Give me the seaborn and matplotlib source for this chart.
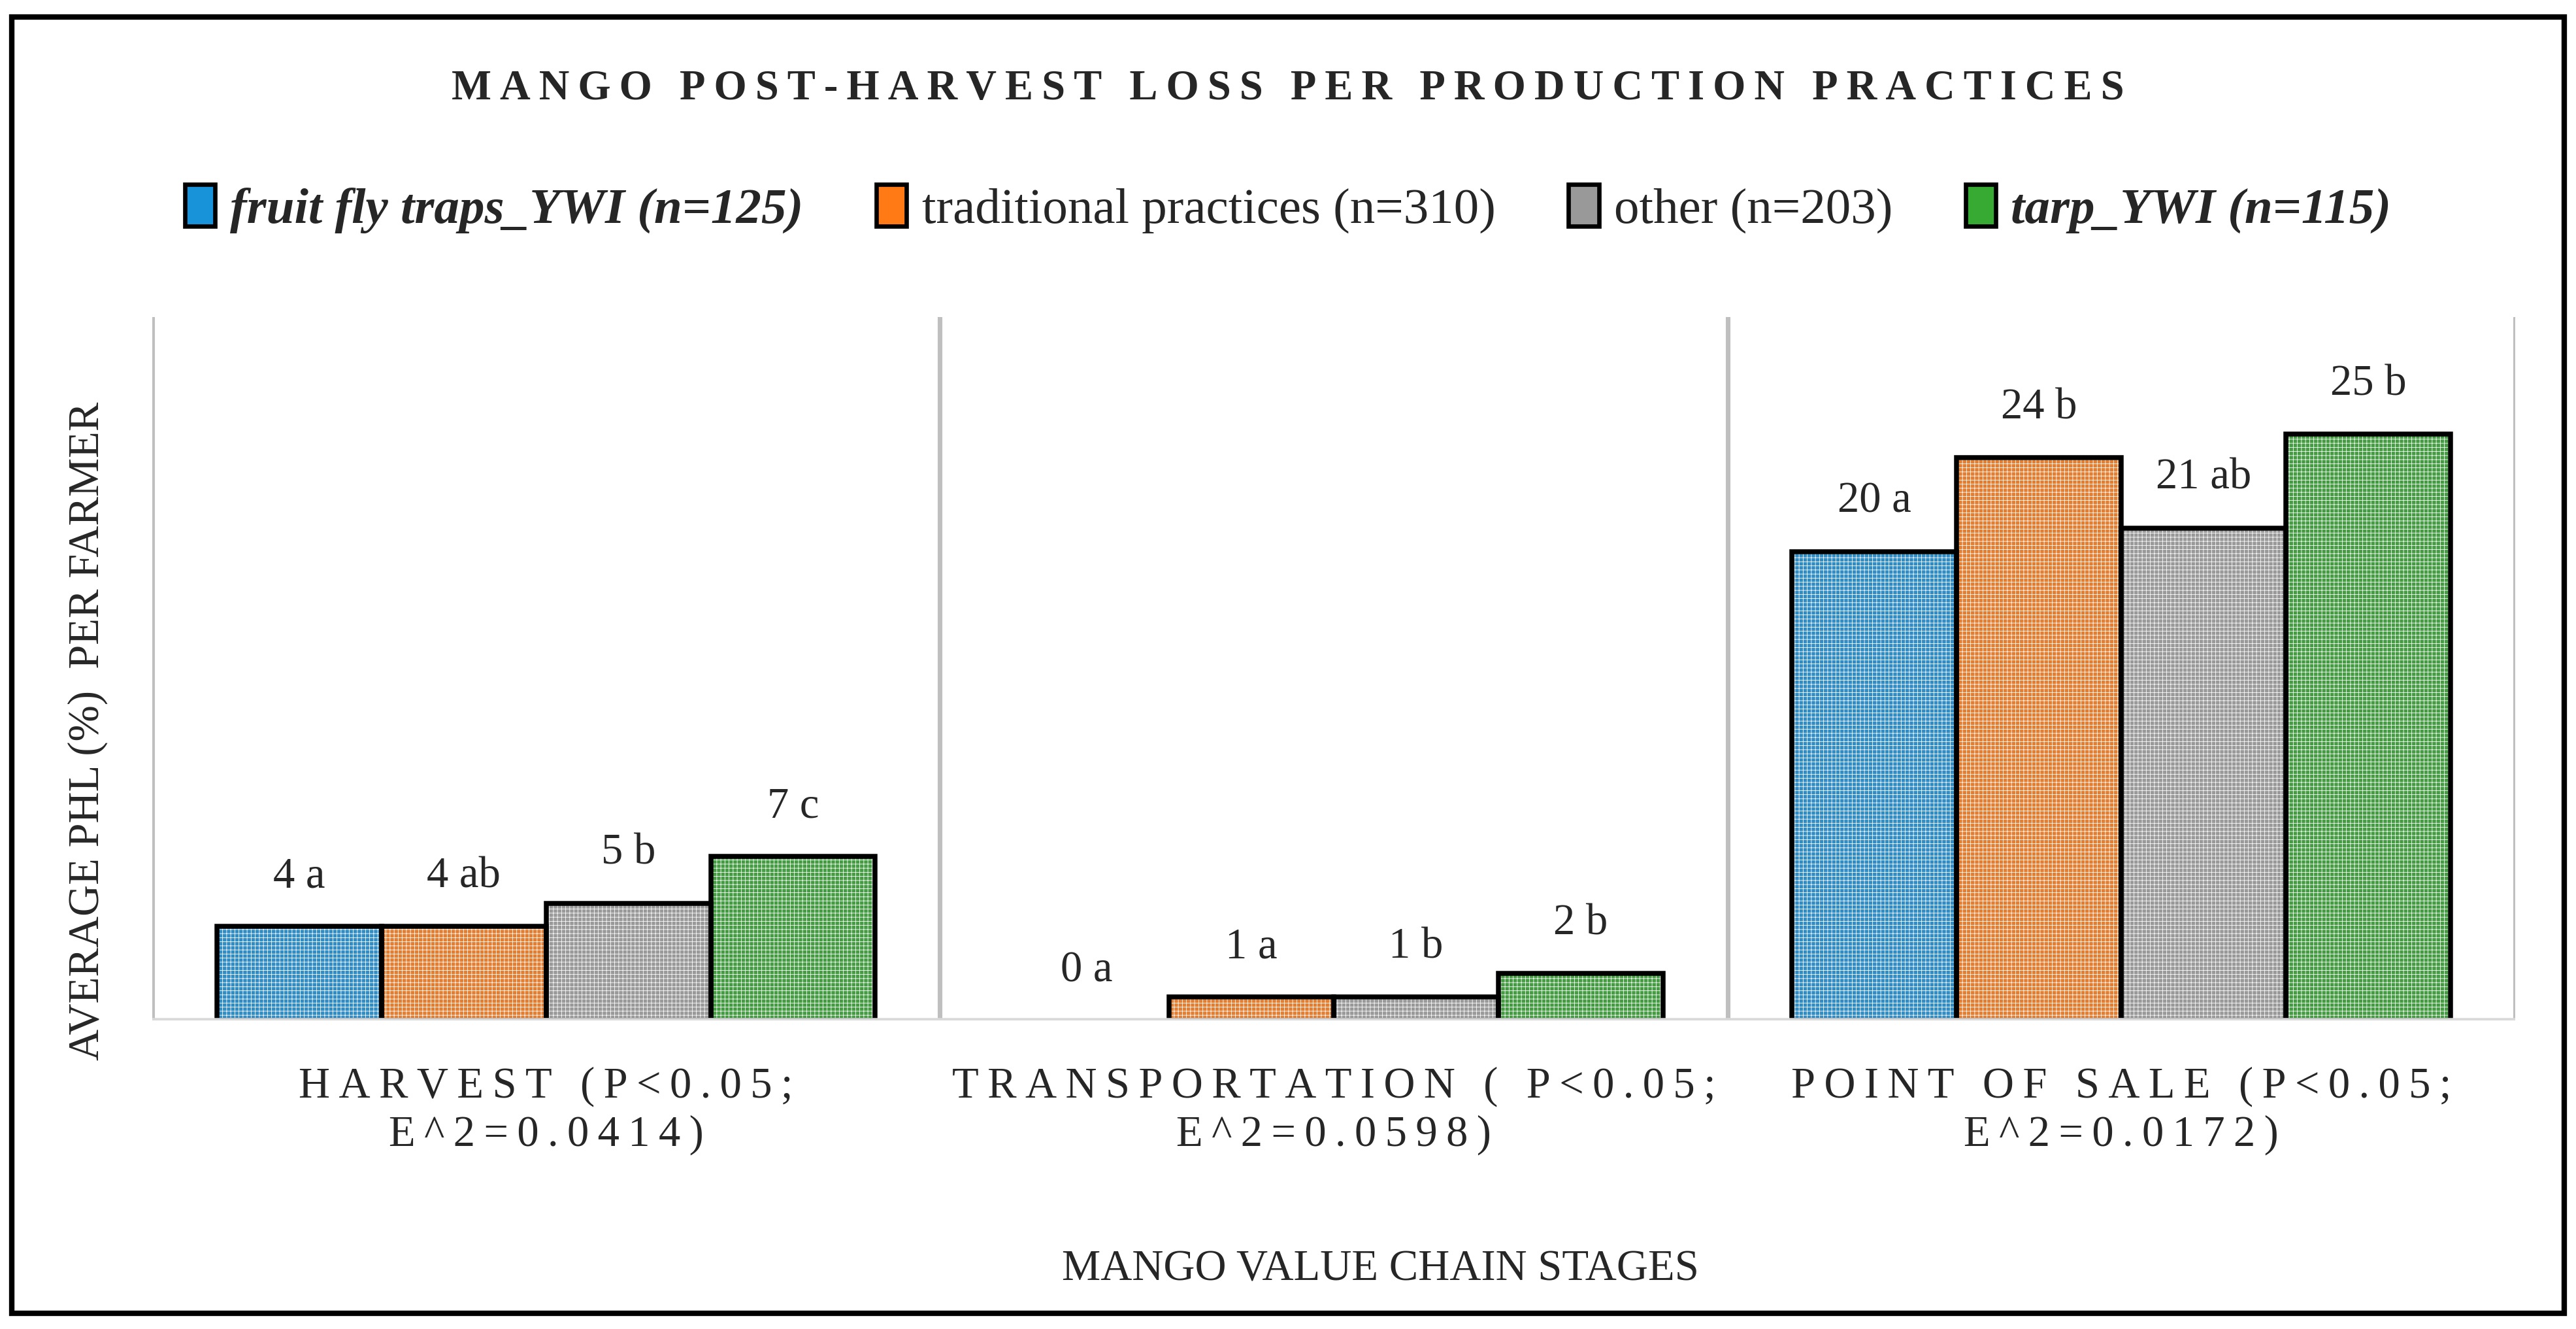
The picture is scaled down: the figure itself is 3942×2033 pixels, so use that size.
import pandas as pd
import seaborn as sns
import matplotlib.pyplot as plt
from matplotlib.patches import Rectangle, Patch

# data
stages = ['HARVEST (P<0.05;\nE^2=0.0414)',
          'TRANSPORTATION ( P<0.05;\nE^2=0.0598)',
          'POINT OF SALE (P<0.05;\nE^2=0.0172)']
practices = ['fruit fly traps_YWI (n=125)', 'traditional practices (n=310)',
             'other (n=203)', 'tarp_YWI (n=115)']
fruit_fly = [4, 0, 20]
traditional = [4, 1, 24]
other = [5, 1, 21]
tarp = [7, 2, 25]
letters_fruit_fly = ['a', 'a', 'a']
letters_traditional = ['ab', 'a', 'b']
letters_other = ['b', 'b', 'ab']
letters_tarp = ['c', 'b', 'b']

colors = ['#1893DA', '#FF7A14', '#999999', '#36AA33']

series = [fruit_fly, traditional, other, tarp]
letters = [letters_fruit_fly, letters_traditional, letters_other, letters_tarp]
rows = []
for p, vals in zip(practices, series):
    for s, v in zip(stages, vals):
        rows.append({'stage': s, 'practice': p, 'phl': v})
df = pd.DataFrame(rows)

sns.set_style('white')
plt.rcParams['font.family'] = ['Liberation Serif', 'DejaVu Serif']
plt.rcParams['hatch.linewidth'] = 0.2


def spaced(text, sep='\u2009'):
    # letter-spaced caps like the original
    return '\n'.join(sep.join(line) for line in text.split('\n'))


fig = plt.figure(figsize=(3942 / 300, 2033 / 300), dpi=300)
ax = fig.add_axes([0.0591, 0.2322, 0.9173, 0.5292])

sns.barplot(data=df, x='stage', y='phl', hue='practice', palette=colors,
            edgecolor='black', linewidth=0, width=0.836, ax=ax,
            legend=False, zorder=2)

# fine white grid texture on every bar, then a black outline on top
for p in list(ax.patches):
    if p.get_height() == 0:
        continue
    box = (p.get_x(), p.get_y())
    ax.add_patch(Rectangle(box, p.get_width(), p.get_height(), fill=False,
                           hatch='++++++++', edgecolor='white', linewidth=0,
                           zorder=2.5))
    ax.add_patch(Rectangle(box, p.get_width(), p.get_height(), fill=False,
                           edgecolor='black', linewidth=1.8, zorder=2.8))

# value labels with significance letters
for cont, vals, let in zip(ax.containers, series, letters):
    ax.bar_label(cont, labels=[f'{v} {l}' for v, l in zip(vals, let)],
                 padding=11, fontsize=16)

ax.set_ylim(0, 30)
ax.set_xlim(-0.5, 2.5)
ax.set_yticks([])
ax.set_xticks(range(len(stages)))
ax.set_xticklabels([spaced(s) for s in stages], fontsize=16, linespacing=1.25)
ax.tick_params(axis='x', length=0, pad=17)
for sp in ax.spines.values():
    sp.set_visible(False)
for x in [-0.5, 0.5, 1.5, 2.5]:
    ax.axvline(x, color='#BFBFBF', lw=1.7, zorder=0)
ax.axhline(0, color='#D9D9D9', lw=1.8, zorder=3)
ax.set_xlabel('')
ax.set_ylabel('')

fig.text(0.034, 0.45, 'AVERAGE PHL (%)  PER FARMER', rotation=90,
         ha='center', va='center', fontsize=16)
fig.text(0.536, 0.045, 'MANGO VALUE CHAIN STAGES', ha='center', va='center',
         fontsize=16)
fig.text(0.5, 0.933, spaced('MANGO POST-HARVEST LOSS PER PRODUCTION PRACTICES'),
         ha='center', va='center', fontsize=15.5, fontweight='bold')

handles = [Patch(facecolor=c, edgecolor='black', linewidth=1.6) for c in colors]
leg = fig.legend(handles, practices, loc='center', bbox_to_anchor=(0.5, 0.843),
                 ncol=4, frameon=False, fontsize=18.5, handlelength=0.6,
                 handleheight=0.9, handletextpad=0.3, columnspacing=1.45)
for t in (leg.get_texts()[0], leg.get_texts()[3]):
    t.set_fontstyle('italic')
    t.set_fontweight('bold')

# outer frame
fig.patches.append(Rectangle((0.0045, 0.012), 0.991, 0.975, transform=fig.transFigure,
                             fill=False, edgecolor='black', linewidth=2))

fig.savefig('out.png', dpi=300)
